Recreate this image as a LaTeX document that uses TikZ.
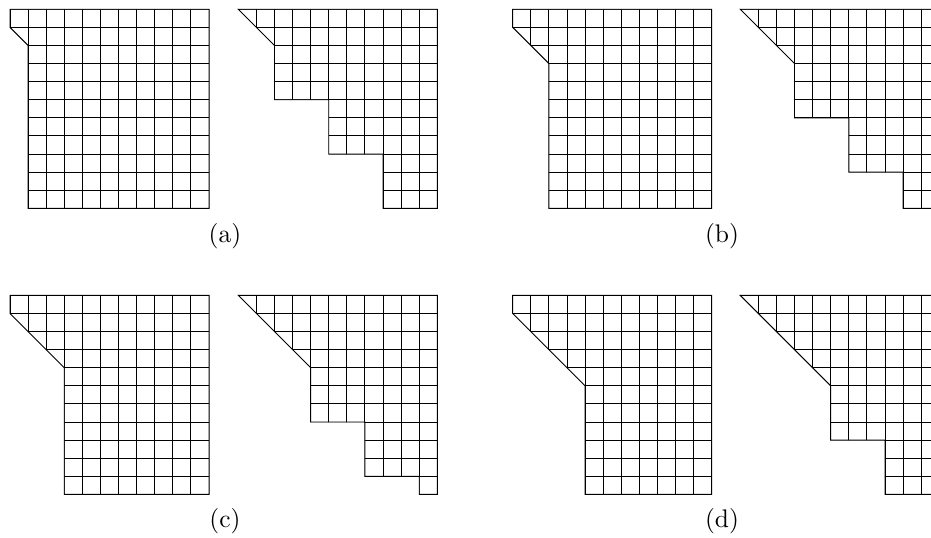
\documentclass[tikz,border=0pt]{standalone}
\newcommand\cellgrid[2]{%
  \begin{scope}[shift={#1}, x=0.25cm, y=-0.25cm]
    \begin{scope}
      \clip #2;
      \foreach \i in {0,...,11} {\draw[gridline] (\i,0) -- (\i,11); \draw[gridline] (0,\i) -- (11,\i);}
    \end{scope}
    \draw[gridline] #2;
  \end{scope}}
\begin{document}
\begin{tikzpicture}[x=1cm, y=-1cm,
  gridline/.style={line width=0.37pt, line join=miter},
  lbl/.style={inner sep=0pt, font=\normalsize}]
\useasboundingbox (0,0) rectangle (12.862,7.432);
\clip (0,0) rectangle (12.862,7.432);
% (a)
\cellgrid{(0.138,0.128)}{(0,0)--(11,0)--(11,11)--(1,11)--(1,2)--(0,1)--cycle}
\cellgrid{(3.292,0.128)}{(0,0)--(11,0)--(11,11)--(8,11)--(8,8)--(5,8)--(5,5)--(2,5)--(2,2)--cycle}
% (b)
\cellgrid{(7.083,0.128)}{(0,0)--(11,0)--(11,11)--(2,11)--(2,3)--(0,1)--cycle}
\cellgrid{(10.226,0.128)}{(0,0)--(11,0)--(11,11)--(9,11)--(9,9)--(6,9)--(6,6)--(3,6)--(3,3)--cycle}
% (c)
\cellgrid{(0.138,4.080)}{(0,0)--(11,0)--(11,11)--(3,11)--(3,4)--(0,1)--cycle}
\cellgrid{(3.292,4.080)}{(0,0)--(11,0)--(11,11)--(10,11)--(10,10)--(7,10)--(7,7)--(4,7)--(4,4)--cycle}
% (d)
\cellgrid{(7.083,4.080)}{(0,0)--(11,0)--(11,11)--(4,11)--(4,5)--(0,1)--cycle}
\cellgrid{(10.226,4.080)}{(0,0)--(11,0)--(11,11)--(8,11)--(8,8)--(5,8)--(5,5)--cycle}
% labels
\node[lbl] (la) at (3.108,3.263) {(a)};
\node[lbl] (lb) at (9.975,3.263) {(b)};
\node[lbl] (lc) at (3.108,7.200) {(c)};
\node[lbl] (ld) at (9.975,7.200) {(d)};
\end{tikzpicture}
\end{document}
